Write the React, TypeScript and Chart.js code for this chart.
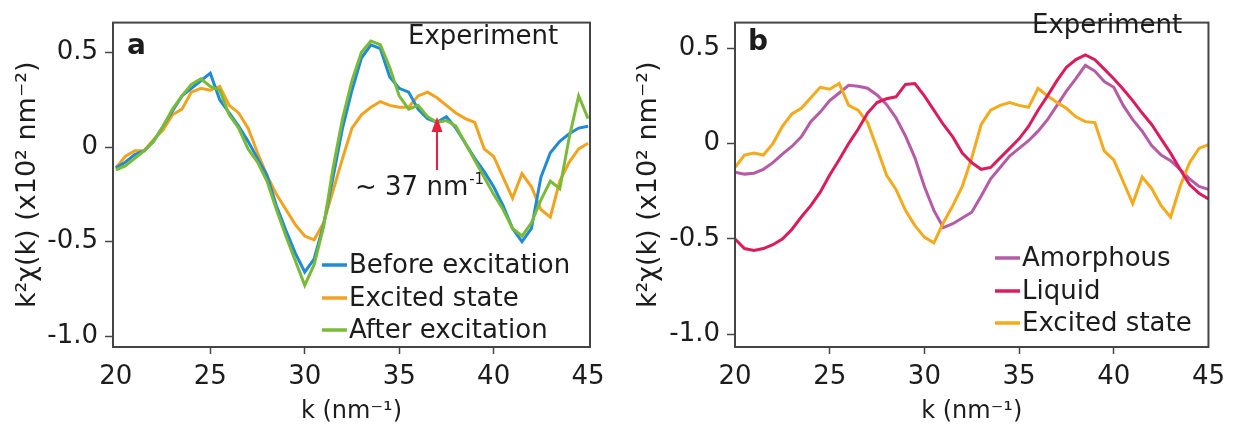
import React, { useEffect, useRef } from "react";
import { Chart, registerables } from "chart.js";

Chart.register(...registerables);

// ---------- data ----------
const kValues = [
  20, 20.5, 21, 21.5, 22, 22.5, 23, 23.5, 24, 24.5, 25, 25.5, 26, 26.5, 27, 27.5,
  28, 28.5, 29, 29.5, 30, 30.5, 31, 31.5, 32, 32.5, 33, 33.5, 34, 34.5, 35, 35.5,
  36, 36.5, 37, 37.5, 38, 38.5, 39, 39.5, 40, 40.5, 41, 41.5, 42, 42.5, 43, 43.5,
  44, 44.5, 45,
];

// panel a
const beforeExcitation = [
  -0.11, -0.08, -0.04, -0.02, 0.03, 0.11, 0.19, 0.27, 0.31, 0.35, 0.39, 0.25, 0.18,
  0.11, 0.03, -0.06, -0.15, -0.31, -0.44, -0.56, -0.66, -0.59, -0.41, -0.16, 0.1,
  0.3, 0.47, 0.54, 0.52, 0.37, 0.31, 0.29, 0.2, 0.15, 0.13, 0.16, 0.1, 0.02, -0.06,
  -0.13, -0.21, -0.31, -0.43, -0.5, -0.43, -0.16, -0.03, 0.03, 0.07, 0.1, 0.11,
];
const excitedStateA = [
  -0.11, -0.05, -0.02, -0.02, 0.04, 0.09, 0.17, 0.2, 0.29, 0.31, 0.3, 0.32, 0.22,
  0.18, 0.1, -0.03, -0.15, -0.25, -0.33, -0.41, -0.47, -0.49, -0.4, -0.23, -0.06,
  0.1, 0.17, 0.21, 0.24, 0.22, 0.21, 0.21, 0.27, 0.29, 0.26, 0.22, 0.18, 0.15, 0.13,
  -0.01, -0.05, -0.16, -0.27, -0.14, -0.21, -0.33, -0.37, -0.18, -0.08, -0.01, 0.02,
];
const afterExcitation = [
  -0.12, -0.1, -0.06, -0.02, 0.03, 0.11, 0.2, 0.27, 0.33, 0.36, 0.32, 0.3, 0.17, 0.1,
  -0.01, -0.08, -0.18, -0.33, -0.47, -0.6, -0.73, -0.62, -0.42, -0.11, 0.15, 0.35,
  0.5, 0.56, 0.54, 0.42, 0.27, 0.2, 0.22, 0.16, 0.13, 0.14, 0.11, 0.02, -0.07, -0.16,
  -0.25, -0.33, -0.43, -0.47, -0.4, -0.28, -0.18, -0.22, 0.05, 0.27, 0.15,
];

// panel b
const amorphous = [
  -0.15, -0.16, -0.155, -0.135, -0.1, -0.055, -0.015, 0.035, 0.115, 0.165, 0.225,
  0.265, 0.305, 0.3, 0.29, 0.255, 0.205, 0.135, 0.04, -0.075, -0.225, -0.35, -0.44,
  -0.42, -0.39, -0.36, -0.275, -0.185, -0.125, -0.065, -0.025, 0.015, 0.065, 0.125,
  0.2, 0.275, 0.34, 0.41, 0.38, 0.325, 0.295, 0.2, 0.125, 0.065, -0.01, -0.06, -0.09,
  -0.135, -0.185, -0.225, -0.24,
];
const liquid = [
  -0.5, -0.55, -0.56, -0.55, -0.53, -0.5, -0.45, -0.385, -0.325, -0.255, -0.165,
  -0.085, 0.0, 0.075, 0.16, 0.215, 0.235, 0.245, 0.31, 0.315, 0.25, 0.175, 0.1, 0.035,
  -0.05, -0.1, -0.135, -0.125, -0.075, -0.025, 0.025, 0.09, 0.175, 0.25, 0.33, 0.4,
  0.44, 0.465, 0.44, 0.39, 0.34, 0.285, 0.225, 0.16, 0.1, 0.025, -0.05, -0.135,
  -0.215, -0.26, -0.29,
];
const excitedStateB = [
  -0.125, -0.06, -0.05, -0.06, 0.0, 0.09, 0.155, 0.185, 0.24, 0.295, 0.285, 0.315,
  0.2, 0.175, 0.11, -0.025, -0.165, -0.24, -0.35, -0.43, -0.49, -0.52, -0.415, -0.325,
  -0.225, -0.075, 0.1, 0.175, 0.2, 0.215, 0.2, 0.19, 0.29, 0.25, 0.215, 0.185, 0.14,
  0.115, 0.11, -0.04, -0.085, -0.2, -0.315, -0.175, -0.235, -0.325, -0.385, -0.225,
  -0.1, -0.025, -0.005,
];

const xTicks = [20, 25, 30, 35, 40, 45];
const yTicks = [-1.0, -0.5, 0, 0.5];
const yTickLabels = ["-1.0", "-0.5", "0", "0.5"];

const yTitle = "k²χ(k) (x10² nm⁻²)";
const xTitle = "k (nm⁻¹)";

const legendA = ["Before excitation", "Excited state", "After excitation"];
const legendB = ["Amorphous", "Liquid", "Excited state"];

const COLORS = {
  before: "#1f8bd6",
  excitedA: "#f2a31e",
  after: "#79bb37",
  amorphous: "#b65ba6",
  liquid: "#dc1b5b",
  excitedB: "#f4aa1a",
};

const FONT = "'DejaVu Sans', 'Liberation Sans', sans-serif";
const TEXT = "#1c1c1c";
const FRAME = "#454545";

const pts = (ys: number[]) => kValues.map((k, i) => ({ x: k, y: ys[i] }));

type PanelCfg = {
  width: number;
  yAxisWidth: number;
  padRight: number;
  yMin: number;
  yMax: number;
  xMin: number;
  xMax: number;
  titlePad: number;
  letter: string;
  letterPos: [number, number];
  expPos: [number, number];
  legendLabels: string[];
  legendColors: string[];
  legendX: number;
  legendRows: number[];
  arrow?: boolean;
};

function makeDecor(cfg: PanelCfg) {
  return {
    id: "decor",
    afterDatasetsDraw(chart: any) {
      const ctx = chart.ctx;
      const a = chart.chartArea;
      ctx.save();
      // frame
      ctx.strokeStyle = FRAME;
      ctx.lineWidth = 2;
      ctx.strokeRect(a.left, a.top, a.right - a.left, a.bottom - a.top);
      // panel letter
      ctx.fillStyle = TEXT;
      ctx.textBaseline = "middle";
      ctx.textAlign = "left";
      ctx.font = `bold 28px ${FONT}`;
      ctx.fillText(cfg.letter, cfg.letterPos[0], cfg.letterPos[1]);
      // Experiment
      ctx.font = `26px ${FONT}`;
      ctx.fillText("Experiment", cfg.expPos[0], cfg.expPos[1]);
      // arrow + annotation
      if (cfg.arrow) {
        ctx.strokeStyle = "#e8223c";
        ctx.fillStyle = "#e8223c";
        ctx.lineWidth = 2;
        ctx.beginPath();
        ctx.moveTo(437, 170);
        ctx.lineTo(437, 128);
        ctx.stroke();
        ctx.beginPath();
        ctx.moveTo(437, 117);
        ctx.lineTo(431.5, 132);
        ctx.lineTo(442.5, 132);
        ctx.closePath();
        ctx.fill();
        ctx.fillStyle = TEXT;
        ctx.font = `26px ${FONT}`;
        const main = "~ 37 nm";
        ctx.fillText(main, 355, 188);
        const w = ctx.measureText(main).width;
        ctx.font = `15px ${FONT}`;
        ctx.fillText("-1", w + 356, 180);
      }
      // legend
      ctx.font = `26px ${FONT}`;
      cfg.legendLabels.forEach((lab, i) => {
        const y = cfg.legendRows[i];
        ctx.strokeStyle = cfg.legendColors[i];
        ctx.lineWidth = 3.5;
        ctx.beginPath();
        ctx.moveTo(cfg.legendX, y);
        ctx.lineTo(cfg.legendX + 25, y);
        ctx.stroke();
        ctx.fillStyle = TEXT;
        ctx.fillText(lab, cfg.legendX + 27, y + 1);
      });
      ctx.restore();
    },
  };
}

function buildConfig(cfg: PanelCfg, datasets: any[]) {
  return {
    type: "line" as const,
    data: { datasets },
    plugins: [makeDecor(cfg)],
    options: {
      animation: false,
      responsive: false,
      events: [],
      layout: { padding: { top: 9, right: cfg.padRight, left: 0, bottom: 0 } },
      plugins: { legend: { display: false }, tooltip: { enabled: false } },
      elements: { point: { radius: 0 }, line: { tension: 0, borderWidth: 3 } },
      scales: {
        x: {
          type: "linear",
          min: cfg.xMin,
          max: cfg.xMax,
          afterFit: (s: any) => {
            s.height = 83;
          },
          afterBuildTicks: (s: any) => {
            s.ticks = xTicks.map((v) => ({ value: v }));
          },
          grid: {
            drawOnChartArea: false,
            drawTicks: true,
            tickLength: 7,
            tickWidth: 1.5,
            tickColor: (c: any) =>
              c.tick && (c.tick.value === 20 || c.tick.value === 45) ? "rgba(0,0,0,0)" : FRAME,
          },
          border: { display: true, color: FRAME, width: 2 },
          ticks: {
            padding: 8,
            color: TEXT,
            font: { family: FONT, size: 26 },
            maxRotation: 0,
            autoSkip: false,
            callback: (v: any) => String(v),
          },
          title: {
            display: true,
            text: xTitle,
            color: TEXT,
            font: { family: FONT, size: 24 },
            padding: { top: 0, bottom: 4 },
          },
        },
        y: {
          type: "linear",
          min: cfg.yMin,
          max: cfg.yMax,
          afterFit: (s: any) => {
            s.width = cfg.yAxisWidth;
          },
          afterBuildTicks: (s: any) => {
            s.ticks = yTicks.map((v) => ({ value: v }));
          },
          grid: {
            drawOnChartArea: false,
            drawTicks: true,
            tickLength: 8,
            tickWidth: 1.5,
            tickColor: FRAME,
          },
          border: { display: true, color: FRAME, width: 2 },
          ticks: {
            padding: 7,
            color: TEXT,
            font: { family: FONT, size: 26 },
            autoSkip: false,
            callback: (v: any) => {
              const i = yTicks.indexOf(Number(v));
              return i >= 0 ? yTickLabels[i] : "";
            },
          },
          title: {
            display: true,
            text: yTitle,
            color: TEXT,
            font: { family: FONT, size: 27 },
            padding: { top: cfg.titlePad, bottom: 0 },
          },
        },
      },
    },
  };
}

const cfgA: PanelCfg = {
  width: 616,
  yAxisWidth: 113,
  padRight: 26,
  yMin: -1.056,
  yMax: 0.657,
  xMin: 19.85,
  xMax: 45.1,
  titlePad: 12,
  letter: "a",
  letterPos: [127, 47],
  expPos: [408, 37],
  legendLabels: legendA,
  legendColors: [COLORS.before, COLORS.excitedA, COLORS.after],
  legendX: 322,
  legendRows: [265, 298, 330],
  arrow: true,
};

const cfgB: PanelCfg = {
  width: 613,
  yAxisWidth: 115,
  padRight: 21,
  yMin: -1.066,
  yMax: 0.634,
  xMin: 20,
  xMax: 45,
  titlePad: 13,
  letter: "b",
  letterPos: [128, 43],
  expPos: [412, 26],
  legendLabels: legendB,
  legendColors: [COLORS.amorphous, COLORS.liquid, COLORS.excitedB],
  legendX: 375,
  legendRows: [258, 291, 323],
};

export default function App() {
  const refA = useRef<HTMLCanvasElement>(null);
  const refB = useRef<HTMLCanvasElement>(null);

  useEffect(() => {
    const chartA = new Chart(
      refA.current as HTMLCanvasElement,
      buildConfig(cfgA, [
        { label: legendA[2], data: pts(afterExcitation), borderColor: COLORS.after, order: 0 },
        { label: legendA[0], data: pts(beforeExcitation), borderColor: COLORS.before, order: 1 },
        { label: legendA[1], data: pts(excitedStateA), borderColor: COLORS.excitedA, order: 2 },
      ]) as any
    );
    const chartB = new Chart(
      refB.current as HTMLCanvasElement,
      buildConfig(cfgB, [
        { label: legendB[1], data: pts(liquid), borderColor: COLORS.liquid, order: 0 },
        { label: legendB[2], data: pts(excitedStateB), borderColor: COLORS.excitedB, order: 1 },
        { label: legendB[0], data: pts(amorphous), borderColor: COLORS.amorphous, order: 2 },
      ]) as any
    );
    return () => {
      chartA.destroy();
      chartB.destroy();
    };
  }, []);

  return (
    <div style={{ position: "absolute", left: 0, top: 0, width: 1233, height: 430, background: "#fff" }}>
      <canvas ref={refA} width={616} height={430} style={{ position: "absolute", left: 0, top: 0 }} />
      <canvas ref={refB} width={613} height={430} style={{ position: "absolute", left: 620, top: 0 }} />
    </div>
  );
}
